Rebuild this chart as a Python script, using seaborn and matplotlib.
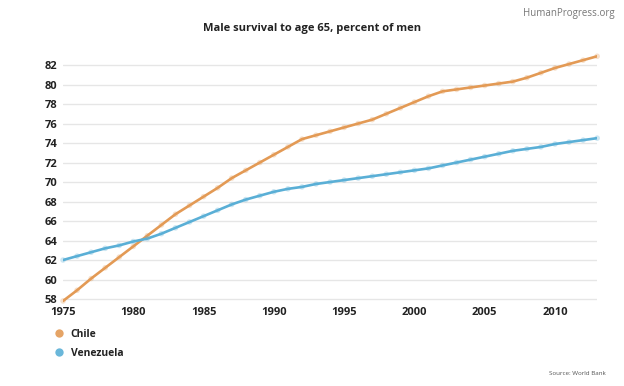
import pandas as pd
import matplotlib.pyplot as plt
import seaborn as sns
from matplotlib.lines import Line2D

years = list(range(1975, 2014))
chile = [57.8, 58.9, 60.1, 61.2, 62.3, 63.4, 64.5, 65.6, 66.7, 67.6,
         68.5, 69.4, 70.4, 71.2, 72.0, 72.8, 73.6, 74.4, 74.8, 75.2,
         75.6, 76.0, 76.4, 77.0, 77.6, 78.2, 78.8, 79.3, 79.5, 79.7,
         79.9, 80.1, 80.3, 80.7, 81.2, 81.7, 82.1, 82.5, 82.9]
venezuela = [62.0, 62.4, 62.8, 63.2, 63.5, 63.9, 64.2, 64.7, 65.3, 65.9,
             66.5, 67.1, 67.7, 68.2, 68.6, 69.0, 69.3, 69.5, 69.8, 70.0,
             70.2, 70.4, 70.6, 70.8, 71.0, 71.2, 71.4, 71.7, 72.0, 72.3,
             72.6, 72.9, 73.2, 73.4, 73.6, 73.9, 74.1, 74.3, 74.5]
countries = ['Chile', 'Venezuela']
colors = {'Chile': '#e39a55', 'Venezuela': '#5aafd6'}
y_ticks = list(range(58, 84, 2))
x_ticks = list(range(1975, 2011, 5))

df = pd.DataFrame({
    'year': years * 2,
    'value': chile + venezuela,
    'country': ['Chile'] * len(years) + ['Venezuela'] * len(years),
})

sns.set_style('white')
plt.rcParams['font.family'] = ['Open Sans', 'DejaVu Sans']

fig = plt.figure(figsize=(6.24, 3.86), dpi=100)
ax = fig.add_axes([0.101, 0.2127, 0.856, 0.6567])

sns.lineplot(data=df, x='year', y='value', hue='country', palette=colors,
             linewidth=1.9, legend=False, ax=ax, zorder=3)
sns.scatterplot(data=df, x='year', y='value', hue='country', palette=colors,
                s=16, alpha=0.3, linewidth=0, legend=False, ax=ax, zorder=4,
                clip_on=False)

ax.set_xlim(1975, 2013)
ax.set_ylim(57.5, 83.5)
ax.set_yticks(y_ticks)
ax.set_xticks(x_ticks)
ax.set_xlabel('')
ax.set_ylabel('')
ax.grid(axis='y', color='#e6e6e6', linewidth=1)
ax.set_axisbelow(True)
for s in ax.spines.values():
    s.set_visible(False)
ax.tick_params(length=0, labelsize=8, colors='#222222', pad=4)
ax.tick_params(axis='x', pad=2)
for lbl in ax.get_xticklabels() + ax.get_yticklabels():
    lbl.set_fontweight('bold')

fig.text(0.5, 0.925, 'Male survival to age 65, percent of men', ha='center',
         va='center', fontsize=8, fontweight='bold', color='#222222')
fig.text(0.985, 0.965, 'HumanProgress.org', ha='right', va='center',
         fontsize=7, color='#777777')
fig.text(0.97, 0.033, 'Source: World Bank', ha='right', va='center',
         fontsize=4.5, color='#555555')

handles = [Line2D([], [], marker='o', linestyle='', markersize=6,
                  markerfacecolor=colors[c], markeredgewidth=0, alpha=0.9)
           for c in countries]
leg = fig.legend(handles, countries, loc='upper left',
                 bbox_to_anchor=(0.07, 0.172), frameon=False,
                 prop={'size': 7.5, 'weight': 'bold'}, handletextpad=0.5,
                 labelspacing=0.75, handlelength=1.2)
for t in leg.get_texts():
    t.set_color('#222222')

fig.savefig('out.png', dpi=100, facecolor='white')
